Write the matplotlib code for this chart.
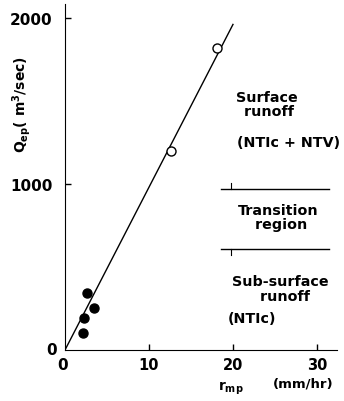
import matplotlib

matplotlib.use("Agg")
import matplotlib.pyplot as plt

# observed points (r_mp in mm/hr, Q_ep in m3/sec)
open_r = [12.6, 18.1]
open_q = [1200, 1820]
filled_r = [2.6, 3.5, 2.3, 2.1]
filled_q = [340, 255, 195, 105]
fit_r = [0, 20]
fit_q = [0, 1960]

# boundaries of the transition region
upper_q = 968
lower_q = 610
bound_r = [18.6, 31.4]
mark_r = 19.8

x_ticks = [0, 10, 20, 30]
y_ticks = [0, 1000, 2000]

plt.rcParams.update({"font.family": "DejaVu Sans", "font.weight": "bold"})

fig = plt.figure(figsize=(3.44, 4.02), dpi=100)
ax = fig.add_axes([0.189, 0.127, 0.791, 0.861])

ax.plot(fit_r, fit_q, color="black", lw=1.0)
ax.plot(open_r, open_q, "o", ms=6.5, mfc="white", mec="black", mew=1.0)
ax.plot(filled_r, filled_q, "o", ms=6.5, color="black")

ax.plot(bound_r, [upper_q, upper_q], color="black", lw=1.0, clip_on=False)
ax.plot(bound_r, [lower_q, lower_q], color="black", lw=1.0, clip_on=False)
ax.plot([mark_r, mark_r], [upper_q, upper_q + 40], color="black", lw=0.8)
ax.plot([mark_r, mark_r], [lower_q, lower_q - 40], color="black", lw=0.8)

ax.set_xlim(0, 32.4)
ax.set_ylim(0, 2084)
ax.spines["top"].set_visible(False)
ax.spines["right"].set_visible(False)
ax.set_xticks(x_ticks[1:])
ax.set_yticks(y_ticks[1:])
ax.set_xticklabels([str(t) for t in x_ticks[1:]], fontsize=10.5, fontweight="bold")
ax.set_yticklabels([str(t) for t in y_ticks[1:]], fontsize=11, fontweight="bold")
ax.tick_params(direction="in", length=4, width=1)
ax.tick_params(axis="y", pad=9)
ax.tick_params(axis="x", pad=5)
ax.text(-1.6, 0, "0", ha="center", va="center", fontsize=11, fontweight="bold")
ax.text(-0.3, -85, "0", ha="center", va="center", fontsize=11, fontweight="bold")

fs = 10.3
ax.text(24, 1480, "Surface\n runoff", ha="center", va="center", fontsize=fs,
        fontweight="bold", linespacing=1.05)
ax.text(26.6, 1250, "(NTIc + NTV)", ha="center", va="center", fontsize=fs, fontweight="bold")
ax.text(25.4, 800, "Transition\n region", ha="center", va="center", fontsize=fs,
        fontweight="bold", linespacing=1.05)
ax.text(25.6, 370, "Sub-surface\n  runoff", ha="center", va="center", fontsize=fs,
        fontweight="bold", linespacing=1.15)
ax.text(22.3, 190, "(NTIc)", ha="center", va="center", fontsize=fs, fontweight="bold")

fig.text(0.064, 0.74, r"Q$_{\mathregular{ep}}$( m$^3$/sec)", rotation=90, ha="center",
         va="center", fontsize=10, fontweight="bold")
fig.text(0.67, 0.035, r"r$_{\mathregular{mp}}$", ha="center", va="center", fontsize=10,
         fontweight="bold")
fig.text(0.88, 0.045, "(mm/hr)", ha="center", va="center", fontsize=9.5, fontweight="bold")

fig.savefig("out.png", dpi=100)
